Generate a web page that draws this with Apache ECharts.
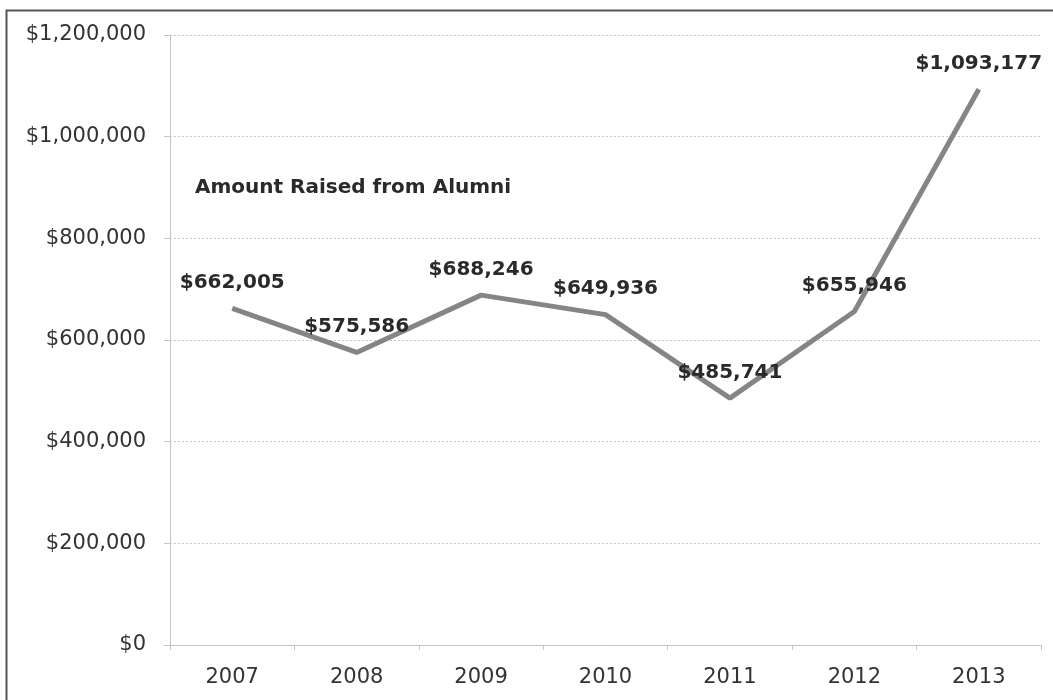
<!DOCTYPE html>
<html>
<head>
<meta charset="utf-8">
<script src="https://cdn.jsdelivr.net/npm/echarts@6/dist/echarts.min.js"></script>
<style>
  html, body { margin: 0; padding: 0; background: #fff; }
  #chart { width: 1053px; height: 700px; }
</style>
</head>
<body>
<div id="chart"></div>
<script>
// Alumni giving by fiscal year
const years = ['2007', '2008', '2009', '2010', '2011', '2012', '2013'];
const amountRaised = [662005, 575586, 688246, 649936, 485741, 655946, 1093177];
const seriesTitle = 'Amount Raised from Alumni';

const money = v => '$' + Math.round(v).toLocaleString('en-US');

const chart = echarts.init(document.getElementById('chart'), null, { renderer: 'canvas' });

chart.setOption({
  backgroundColor: '#ffffff',
  animation: false,
  textStyle: { fontFamily: 'DejaVu Sans' },
  grid: { left: 170, right: 12, top: 35, bottom: 55 },
  graphic: [
    {
      type: 'rect',
      shape: { x: 6.5, y: 10.5, width: 1200, height: 900 },
      style: { fill: 'none', stroke: '#555', lineWidth: 2 },
      silent: true
    },
    {
      type: 'text',
      left: 195,
      top: 178,
      style: {
        text: seriesTitle,
        font: 'bold 20px "DejaVu Sans"',
        fill: '#2a2a2a'
      }
    }
  ],
  xAxis: {
    type: 'category',
    data: years,
    boundaryGap: true,
    axisLine: { show: true, lineStyle: { color: '#c4c4c4', width: 1 } },
    axisTick: { show: true, length: 5, lineStyle: { color: '#c4c4c4' } },
    axisLabel: { color: '#333', fontSize: 21, margin: 22 },
    splitLine: { show: false }
  },
  yAxis: {
    type: 'value',
    min: 0,
    max: 1200000,
    interval: 200000,
    axisLine: { show: true, lineStyle: { color: '#c4c4c4', width: 1 } },
    axisTick: { show: true, length: 6, lineStyle: { color: '#c4c4c4' } },
    axisLabel: { color: '#333', fontSize: 21, margin: 24, formatter: money },
    splitLine: { show: true, lineStyle: { color: '#c8c8c8', width: 1, type: [2, 2] } }
  },
  series: [{
    type: 'line',
    name: seriesTitle,
    data: amountRaised,
    showSymbol: true,
    symbol: 'circle',
    symbolSize: 1,
    itemStyle: { color: '#858585', opacity: 0 },
    lineStyle: { color: '#858585', width: 5, opacity: 1 },
    label: {
      show: true,
      position: 'top',
      distance: 15,
      formatter: p => money(p.value),
      fontFamily: 'DejaVu Sans',
      fontWeight: 'bold',
      fontSize: 20,
      color: '#2a2a2a',
      opacity: 1
    },
    z: 3
  }]
});
</script>
</body>
</html>
